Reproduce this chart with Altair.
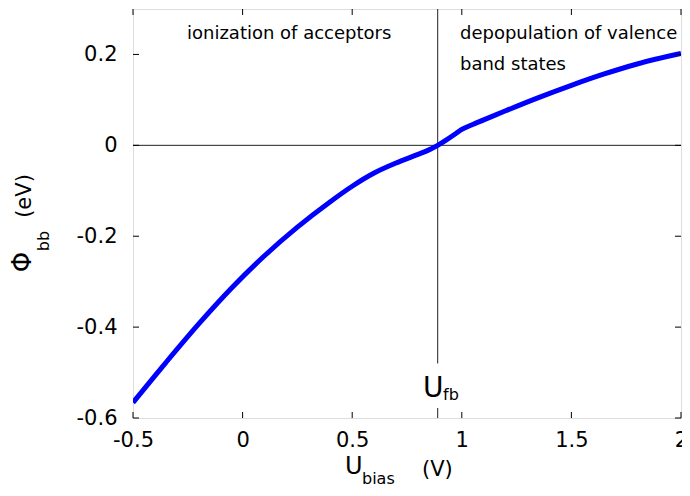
import altair as alt
import pandas as pd

# ---- data ----
u_bias = [-0.5, -0.35, -0.2, -0.05, 0.1, 0.25, 0.4, 0.5, 0.6, 0.7, 0.8, 0.85, 0.89,
          0.93, 0.97, 1.0, 1.05, 1.1, 1.2, 1.35, 1.5, 1.65, 1.8, 2.0]
phi_bb = [-0.566, -0.478, -0.393, -0.314, -0.243, -0.180, -0.124, -0.090, -0.061,
          -0.039, -0.020, -0.010, 0.0, 0.012, 0.025, 0.035, 0.046, 0.056, 0.076, 0.105,
          0.132, 0.157, 0.179, 0.202]
x_ticks = [-0.5, 0, 0.5, 1, 1.5, 2]
y_ticks = [-0.6, -0.4, -0.2, 0, 0.2]
u_fb = 0.89
fb_line_top = [0.3, -0.578]
fb_line_bottom = [-0.48, -0.6]
region_labels = ["ionization of acceptors", "depopulation of valence", "band states"]

FONT = "DejaVu Sans"
W, H = 548, 409

xs = alt.Scale(domain=[-0.5, 2], nice=False, zero=False)
ys = alt.Scale(domain=[-0.6, 0.3], nice=False, zero=False)

xaxis = alt.Axis(values=x_ticks, labelExpr="'' + datum.value", tickSize=0, domain=False,
                 grid=False, labelFontSize=21, labelFont=FONT, labelColor="#000",
                 labelPadding=11, title=None, labelFlush=False, labelOverlap=False)
yaxis = alt.Axis(values=y_ticks, labelExpr="'' + datum.value", tickSize=0, domain=False,
                 grid=False, labelFontSize=21, labelFont=FONT, labelColor="#000",
                 labelPadding=16, title=None, labelFlush=False, labelOverlap=False)


def X(f):
    return alt.X(f, type="quantitative", scale=xs, axis=xaxis)


def Y(f):
    return alt.Y(f, type="quantitative", scale=ys, axis=yaxis)


curve = alt.Chart(pd.DataFrame({"u": u_bias, "phi": phi_bb})).mark_line(
    color="#0000ff", strokeWidth=5, interpolate="monotone", clip=True
).encode(x=X("u"), y=Y("phi"))

zero_line = alt.Chart(pd.DataFrame({"phi": [0]})).mark_rule(
    color="#222", strokeWidth=1).encode(y=Y("phi"))

fb_line = alt.Chart(pd.DataFrame({"u": [u_fb, u_fb], "phi": fb_line_top,
                                  "phi2": fb_line_bottom})).mark_rule(
    color="#222", strokeWidth=1).encode(x=X("u"), y=Y("phi"), y2="phi2")

xt = pd.DataFrame({"u": x_ticks})
yt = pd.DataFrame({"phi": y_ticks})
tick_bottom = alt.Chart(xt).mark_rule(color="#000", strokeWidth=1).encode(
    x=X("u"), y=alt.value(H), y2=alt.value(H - 6))
tick_top = alt.Chart(xt).mark_rule(color="#000", strokeWidth=1).encode(
    x=X("u"), y=alt.value(0), y2=alt.value(6))
tick_left = alt.Chart(yt).mark_rule(color="#000", strokeWidth=1).encode(
    y=Y("phi"), x=alt.value(0), x2=alt.value(6))
tick_right = alt.Chart(yt).mark_rule(color="#000", strokeWidth=1).encode(
    y=Y("phi"), x=alt.value(W), x2=alt.value(W - 6))


def label(txt, px, py, size, angle=0, align="left", baseline="alphabetic"):
    kw = dict(align=align, baseline=baseline, font=FONT, fontSize=size, color="#000")
    if angle:
        kw["angle"] = angle
    return alt.Chart(pd.DataFrame({"t": [txt]})).mark_text(**kw).encode(
        text="t:N", x=alt.value(px), y=alt.value(py))


texts = [
    label(region_labels[0], 54, 30, 18),
    label(region_labels[1], 327, 30, 18),
    label(region_labels[2], 327, 61, 18),
    # U_fb marker label
    label("U", 290, 388, 28),
    label("fb", 310, 391, 16),
    # x title
    label("U", 212, 465, 24),
    label("bias", 229, 475, 16),
    label("(V)", 289, 467, 21),
    # y title (rotated)
    label("Φ", -110, 253, 26, angle=270, align="center", baseline="middle"),
    label("bb", -89, 232, 16, angle=270, align="center", baseline="middle"),
    label("(eV)", -108, 187, 21, angle=270, align="center", baseline="middle"),
]

chart = alt.layer(
    zero_line, fb_line, curve, tick_bottom, tick_top, tick_left, tick_right, *texts
).properties(
    width=W, height=H,
    autosize=alt.AutoSizeParams(type="none"),
    padding={"left": 125, "top": 1, "right": 1, "bottom": 70},
).configure_view(stroke="#000", strokeWidth=1.5).configure(background="white")

chart.save("out.html", embed_options={"renderer": "svg", "actions": False})
